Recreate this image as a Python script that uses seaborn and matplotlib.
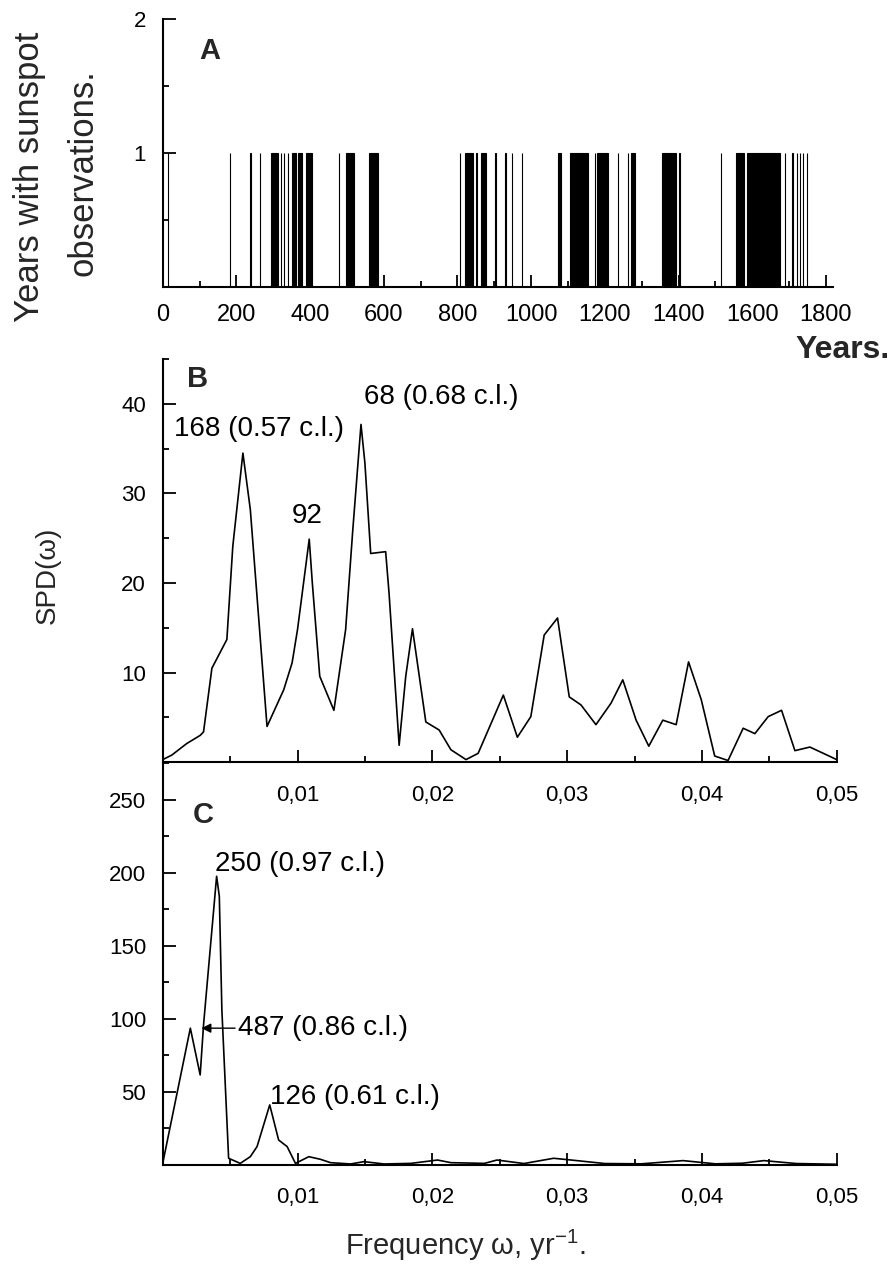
import numpy as np
import matplotlib
matplotlib.use("Agg")
import matplotlib.pyplot as plt
from matplotlib.ticker import MultipleLocator, FixedLocator, FuncFormatter
import seaborn as sns

# ---- Panel A: years with sunspot observations (single years and continuous runs)
single_years = [14, 182, 238, 264, 320, 329, 340, 478, 806, 851, 903, 930, 947, 975,
                1172, 1235, 1262, 1402, 1515, 1688, 1709, 1721, 1729, 1738, 1748]
run_start = [295, 350, 367, 388, 497, 560, 820, 864, 1072, 1106, 1178, 1271, 1355, 1556, 1587]
run_end = [312, 361, 377, 405, 517, 583, 842, 876, 1081, 1153, 1208, 1282, 1393, 1576, 1675]

# ---- Panel B: spectral power density, sunspot years series
b_freq = [0, 0.00067, 0.00179, 0.00278, 0.00303, 0.00365, 0.00476, 0.00520, 0.00595, 0.00650,
          0.00774, 0.00898, 0.00960, 0.01000, 0.01087, 0.01110, 0.01165, 0.01270, 0.01357,
          0.01410, 0.01471, 0.01500, 0.01543, 0.01654, 0.01679, 0.01754, 0.01803, 0.01853,
          0.01952, 0.02051, 0.02138, 0.02250, 0.02340, 0.02527, 0.02631, 0.02731, 0.02830,
          0.02929, 0.03016, 0.03103, 0.03214, 0.03326, 0.03413, 0.03512, 0.03606, 0.03710,
          0.03809, 0.03901, 0.03995, 0.04095, 0.04194, 0.04306, 0.04393, 0.04492, 0.04591,
          0.04690, 0.04801, 0.04901, 0.05000]
b_spd = [0.3, 0.8, 2.1, 3.0, 3.4, 10.5, 13.7, 24.1, 34.5, 28.2,
         4.0, 8.1, 11.1, 14.8, 24.9, 20.0, 9.6, 5.8, 14.8,
         25.9, 37.7, 33.4, 23.3, 23.5, 18.9, 1.9, 9.6, 14.9,
         4.5, 3.6, 1.4, 0.3, 1.0, 7.5, 2.8, 5.1, 14.2,
         16.1, 7.3, 6.4, 4.2, 6.6, 9.2, 4.7, 1.8, 4.7,
         4.2, 11.2, 7.0, 0.7, 0.2, 3.8, 3.2, 5.1, 5.8,
         1.3, 1.7, 1.0, 0.3]
b_peak_periods = [168, 92, 68]
b_peak_labels = ["168 (0.57 c.l.)", "92", "68 (0.68 c.l.)"]

# ---- Panel C: spectral power density, second series
c_freq = [0, 0.00205, 0.00278, 0.00303, 0.00400, 0.00420, 0.00439, 0.00489, 0.00575, 0.00650,
          0.00700, 0.00794, 0.00860, 0.00923, 0.00985, 0.01084, 0.01170, 0.01245, 0.01394,
          0.01493, 0.01642, 0.01840, 0.02039, 0.02138, 0.02386, 0.02480, 0.02680, 0.02900,
          0.03030, 0.03280, 0.03550, 0.03860, 0.04100, 0.04300, 0.04460, 0.04700, 0.05000]
c_spd = [1.1, 93.6, 61.6, 95.9, 197.5, 183.8, 106.0, 4.6, 1.1, 5.7,
         12.6, 41.1, 17.1, 12.6, 1.1, 5.7, 3.9, 1.6, 0.7,
         2.3, 0.7, 1.1, 3.4, 1.6, 1.1, 3.4, 1.0, 4.6,
         3.4, 1.0, 0.8, 3.0, 0.8, 1.2, 3.0, 1.0, 0.5]
c_peak_periods = [250, 487, 126]
c_peak_labels = ["250 (0.97 c.l.)", "487 (0.86 c.l.)", "126 (0.61 c.l.)"]

year_ticks = list(range(0, 1801, 200))
freq_ticks = [0.01, 0.02, 0.03, 0.04, 0.05]

sns.set_theme(style="ticks")
plt.rcParams["font.family"] = ["Liberation Sans", "DejaVu Sans"]
plt.rcParams["mathtext.fontset"] = "custom"
plt.rcParams["mathtext.rm"] = "Liberation Sans"
plt.rcParams["mathtext.it"] = "Liberation Sans:italic"
plt.rcParams["axes.linewidth"] = 1.5

W, H = 896, 1280
fig = plt.figure(figsize=(W / 100, H / 100), dpi=100)


def box(left, top, right, bottom):
    return [left / W, 1 - bottom / H, (right - left) / W, (bottom - top) / H]


axA = fig.add_axes(box(162.7, 19, 833.3, 287))
axB = fig.add_axes(box(162.7, 359, 836.7, 762.3))
axC = fig.add_axes(box(162.7, 763, 836.7, 1165))

for ax in (axA, axB, axC):
    ax.set_facecolor("none")
    sns.despine(ax=ax)
    for s in ("left", "bottom"):
        ax.spines[s].set_color("black")
        ax.spines[s].set_linewidth(1.5)
    ax.tick_params(which="both", direction="in", color="black", width=1.3,
                   labelcolor="black", labelsize=16)
    ax.tick_params(which="major", length=9)
    ax.tick_params(which="minor", length=4.5)
    ax.grid(False)

# ---- A
starts = np.array(single_years + run_start, dtype=float)
ends = np.array(single_years + run_end, dtype=float)
axA.bar(starts, np.ones_like(starts), width=ends - starts + 1, align="edge",
        color="black", edgecolor="black", linewidth=0.8)
axA.set_xlim(0, 1820)
axA.set_ylim(0, 2)
axA.xaxis.set_major_locator(FixedLocator(year_ticks))
axA.xaxis.set_minor_locator(MultipleLocator(100))
axA.yaxis.set_major_locator(FixedLocator([1, 2]))
axA.yaxis.set_minor_locator(FixedLocator([0.5, 1.5]))
axA.tick_params(axis="x", pad=12, labelsize=17)
axA.tick_params(axis="y", pad=12)
axA.text(0.07, 0.88, "A", transform=axA.transAxes, fontsize=21, fontweight="bold",
         ha="center", va="center")

comma = FuncFormatter(lambda v, p: f"{v:.2f}".replace(".", ","))

# ---- B
sns.lineplot(x=b_freq, y=b_spd, ax=axB, color="black", linewidth=1.2,
             sort=False, estimator=None)
axB.set_xlim(0, 0.05)
axB.set_ylim(0, 45)
axB.xaxis.set_major_locator(FixedLocator(freq_ticks))
axB.xaxis.set_minor_locator(MultipleLocator(0.005))
axB.xaxis.set_major_formatter(comma)
axB.yaxis.set_major_locator(MultipleLocator(10))
axB.yaxis.set_minor_locator(MultipleLocator(5))
axB.tick_params(axis="x", pad=16)
axB.tick_params(axis="y", pad=12)
axB.yaxis.set_major_formatter(FuncFormatter(lambda v, p: "" if v == 0 else f"{v:.0f}"))
axB.text(0.052, 0.95, "B", transform=axB.transAxes, fontsize=21, fontweight="bold",
         ha="center", va="center")

bf = np.array(b_freq)
b_offsets = [(16, 24), (-2, 23), (80, 27)]
for per, lab, off in zip(b_peak_periods, b_peak_labels, b_offsets):
    i = int(np.argmin(np.abs(bf - 1.0 / per)))
    axB.annotate(lab, xy=(b_freq[i], b_spd[i]), xytext=off, textcoords="offset pixels",
                 ha="center", va="center", fontsize=20, color="black")

# ---- C
sns.lineplot(x=c_freq, y=c_spd, ax=axC, color="black", linewidth=1.2,
             sort=False, estimator=None)
axC.set_xlim(0, 0.05)
axC.set_ylim(0, 275)
axC.xaxis.set_major_locator(FixedLocator(freq_ticks))
axC.xaxis.set_minor_locator(MultipleLocator(0.005))
axC.xaxis.set_major_formatter(comma)
axC.yaxis.set_major_locator(FixedLocator([50, 100, 150, 200, 250]))
axC.yaxis.set_minor_locator(MultipleLocator(25))
axC.tick_params(axis="x", pad=16)
axC.tick_params(axis="y", pad=12)
axC.text(0.06, 0.87, "C", transform=axC.transAxes, fontsize=21, fontweight="bold",
         ha="center", va="center")

cf = np.array(c_freq)
for per, lab in zip(c_peak_periods, c_peak_labels):
    i = int(np.argmin(np.abs(cf - 1.0 / per)))
    if per == 487:
        axC.annotate(lab, xy=(c_freq[i], c_spd[i]), xytext=(48, 0), textcoords="offset pixels",
                     ha="left", va="center", fontsize=20, color="black",
                     arrowprops=dict(arrowstyle="-|>", color="black", lw=1.0,
                                     mutation_scale=14, shrinkA=0, shrinkB=8))
    elif per == 250:
        axC.annotate(lab, xy=(c_freq[i], c_spd[i]), xytext=(-2, 12), textcoords="offset pixels",
                     ha="left", va="center", fontsize=20, color="black")
    else:
        axC.annotate(lab, xy=(c_freq[i], c_spd[i]), xytext=(0, 8), textcoords="offset pixels",
                     ha="left", va="center", fontsize=20, color="black")

# ---- axis titles
fig.text(29 / W, 1 - 177 / H, "Years with sunspot", rotation=90, fontsize=25,
         ha="center", va="center")
fig.text(83 / W, 1 - 173 / H, "observations.", rotation=90, fontsize=25,
         ha="center", va="center")
fig.text(890 / W, 1 - 350 / H, "Years.", fontsize=23, fontweight="bold",
         ha="right", va="center")
fig.text(48 / W, 1 - 575 / H, "SPD(\u03c9)", rotation=90, fontsize=20,
         ha="center", va="center")
fig.text(465 / W, 1 - 1245 / H, "Frequency \u03c9, yr$^{-1}$.", fontsize=21,
         ha="center", va="center")

fig.savefig("out.png", dpi=100, facecolor="white")
